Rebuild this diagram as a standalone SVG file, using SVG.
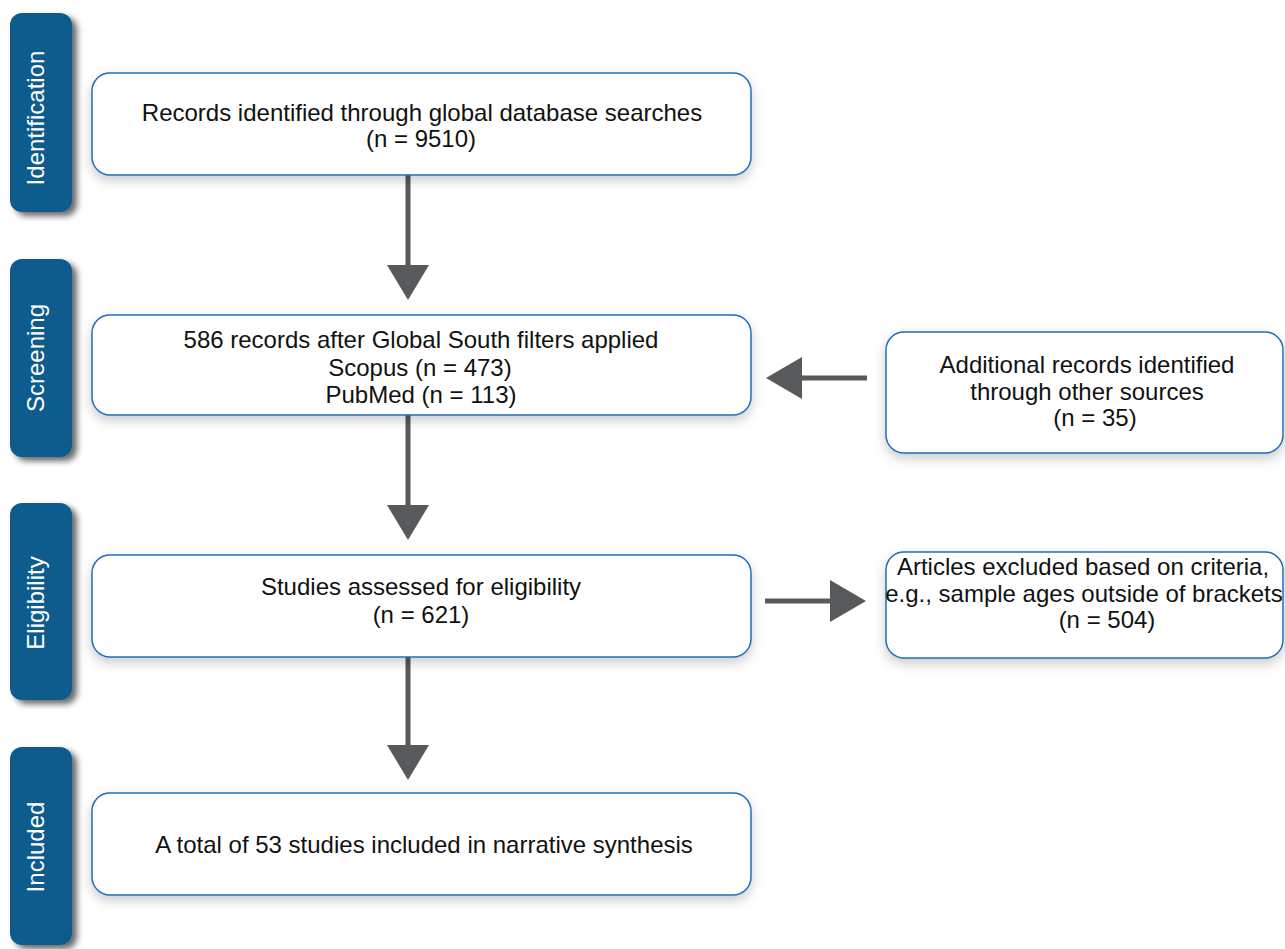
<svg xmlns="http://www.w3.org/2000/svg" width="1285" height="949" viewBox="0 0 1285 949">
  <defs>
    <filter id="boxShadow" x="-10%" y="-30%" width="120%" height="170%">
      <feDropShadow dx="0" dy="5" stdDeviation="6" flood-color="#000" flood-opacity="0.2"/>
    </filter>
    <filter id="barShadow" x="-30%" y="-10%" width="170%" height="125%">
      <feDropShadow dx="5" dy="4" stdDeviation="3" flood-color="#000" flood-opacity="0.6"/>
    </filter>
  </defs>
  <style>
    .bar { fill: #0a5b8d; filter: url(#barShadow); }
    .barText { fill: #ffffff; font-family: "Liberation Sans", Arial, sans-serif; font-size: 24px; text-anchor: middle; }
    .box { fill: #ffffff; stroke: #1f6fb8; stroke-width: 1.5; filter: url(#boxShadow); }
    .txt { fill: #111111; font-family: "Liberation Sans", Arial, sans-serif; font-size: 24px; text-anchor: middle; }
    .line { stroke: #58595b; stroke-width: 5; fill: none; }
    .head { fill: #58595b; }
  </style>
  <rect width="1285" height="949" fill="#ffffff"/>

  <g id="stage-identification">
    <rect class="bar" x="10" y="13" width="62" height="199" rx="12"/>
    <text class="barText" x="44" y="118" transform="rotate(-90 44 118)">Identification</text>
  </g>
  <g id="stage-screening">
    <rect class="bar" x="10" y="259" width="62" height="198" rx="12"/>
    <text class="barText" x="44" y="358" transform="rotate(-90 44 358)">Screening</text>
  </g>
  <g id="stage-eligibility">
    <rect class="bar" x="10" y="503" width="62" height="197" rx="12"/>
    <text class="barText" x="44" y="603" transform="rotate(-90 44 603)">Eligibility</text>
  </g>
  <g id="stage-included">
    <rect class="bar" x="10" y="747" width="62" height="198" rx="12"/>
    <text class="barText" x="44" y="847" transform="rotate(-90 44 847)">Included</text>
  </g>

  <g id="connectors">
    <line class="line" x1="408" y1="175" x2="408" y2="267"/>
    <polygon class="head" points="387,265 429,265 408,300"/>
    <line class="line" x1="408" y1="415" x2="408" y2="507"/>
    <polygon class="head" points="387,505 429,505 408,540"/>
    <line class="line" x1="408" y1="657" x2="408" y2="747"/>
    <polygon class="head" points="387,745 429,745 408,780"/>
    <line class="line" x1="867" y1="378" x2="800" y2="378"/>
    <polygon class="head" points="802,357 802,399 766,378"/>
    <line class="line" x1="765" y1="601" x2="832" y2="601"/>
    <polygon class="head" points="830,580 830,622 866,601"/>
  </g>

  <g id="node-records">
    <rect class="box" x="92" y="73" width="659" height="102" rx="18"/>
    <text class="txt" x="422" y="121">Records identified through global database searches</text>
    <text class="txt" x="421" y="147">(n = 9510)</text>
  </g>

  <g id="node-filtered">
    <rect class="box" x="92" y="315" width="659" height="100" rx="18"/>
    <text class="txt" x="421" y="348">586 records after Global South filters applied</text>
    <text class="txt" x="420" y="376">Scopus (n = 473)</text>
    <text class="txt" x="421" y="403">PubMed (n = 113)</text>
  </g>

  <g id="node-additional">
    <rect class="box" x="886" y="332" width="397" height="121" rx="18"/>
    <text class="txt" x="1087" y="373">Additional records identified</text>
    <text class="txt" x="1087" y="400">through other sources</text>
    <text class="txt" x="1095" y="426">(n = 35)</text>
  </g>

  <g id="node-eligibility">
    <rect class="box" x="92" y="555" width="659" height="102" rx="18"/>
    <text class="txt" x="421" y="595">Studies assessed for eligibility</text>
    <text class="txt" x="421" y="623">(n = 621)</text>
  </g>

  <g id="node-excluded">
    <rect class="box" x="886" y="552" width="397" height="106" rx="18"/>
    <text class="txt" x="1083" y="575">Articles excluded based on criteria,</text>
    <text class="txt" x="1084" y="602">e.g., sample ages outside of brackets</text>
    <text class="txt" x="1107" y="628">(n = 504)</text>
  </g>

  <g id="node-included">
    <rect class="box" x="92" y="793" width="659" height="102" rx="18"/>
    <text class="txt" x="424" y="853">A total of 53 studies included in narrative synthesis</text>
  </g>
</svg>
